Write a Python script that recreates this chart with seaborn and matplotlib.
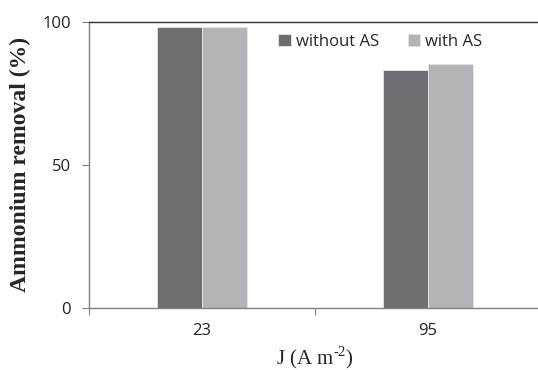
import pandas as pd
import matplotlib.pyplot as plt
import seaborn as sns

# values
current_density = ["23", "95"]
without_as = [98, 83]
with_as = [98, 85]
series_names = ["without AS", "with AS"]

data = pd.DataFrame({
    "J": current_density * 2,
    "removal": without_as + with_as,
    "series": [series_names[0]] * 2 + [series_names[1]] * 2,
})

sns.set_style("white")
plt.rcParams['font.family'] = ['Open Sans', 'DejaVu Sans']
plt.rcParams['mathtext.fontset'] = 'custom'
plt.rcParams['mathtext.rm'] = 'Liberation Serif'

fig = plt.figure(figsize=(5.38, 3.70), dpi=100)
ax = fig.add_axes([89 / 538, 62 / 370, 452 / 538, 286.5 / 370])

sns.barplot(x="J", y="removal", hue="series", data=data, ax=ax,
            palette=["#6d6e71", "#b3b4b7"], width=0.4, saturation=1,
            edgecolor="#e6e6e6", linewidth=0.6)

ax.set_ylim(0, 100)
ax.set_xlim(-0.5, 1.5)
ax.set_yticks([0, 50, 100])
ax.tick_params(axis="y", labelsize=12, colors="#222222", length=5, width=0.8,
               direction="out", left=True, color="#808080", pad=8)

# category boundary ticks, labels centred between them
ax.set_xticks([-0.5, 0.5, 1.5])
ax.set_xticklabels([])
ax.tick_params(axis="x", which="major", length=5, width=0.8, bottom=True,
               color="#808080", direction="out")
ax.set_xticks([0, 1], minor=True)
ax.set_xticklabels(current_density, minor=True)
ax.tick_params(axis="x", which="minor", length=0, labelsize=12,
               labelcolor="#222222", pad=11)

for side in ["left", "bottom"]:
    ax.spines[side].set_color("#808080")
    ax.spines[side].set_linewidth(1.0)
ax.spines["top"].set_color("#333333")
ax.spines["top"].set_linewidth(1.0)
ax.spines["right"].set_visible(False)

ax.set_ylabel("Ammonium removal (%)", family="Liberation Serif",
              fontweight="bold", fontsize=17, labelpad=8)
ax.set_xlabel("J (A m$^{\\mathregular{\u20102}}$)", family="Liberation Serif",
              fontsize=15, labelpad=4)

ax.legend(ncol=2, frameon=False, loc="upper left",
          bbox_to_anchor=(0.385, 1.01), fontsize=12, handlelength=0.75,
          handleheight=0.75, handletextpad=0.3, columnspacing=1.75)

fig.savefig("out.png", dpi=100)
